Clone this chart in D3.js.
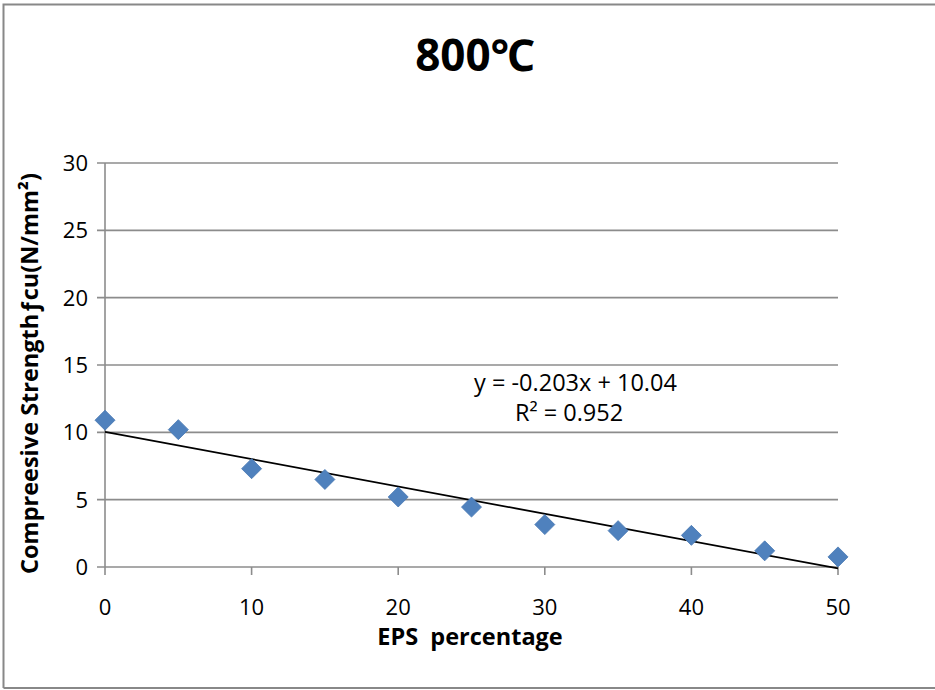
<!DOCTYPE html>
<html><head><meta charset="utf-8">
<script src="https://cdn.jsdelivr.net/npm/d3@7"></script>
<style>
body{margin:0;background:#fff;}
svg{display:block;font-family:"Open Sans","Noto Sans",sans-serif;}
</style></head>
<body><svg id="c" width="935" height="690"></svg>
<script>
const titleText = "800℃";
const eps = [0, 5, 10, 15, 20, 25, 30, 35, 40, 45, 50];
const strength = [10.9, 10.2, 7.3, 6.5, 5.2, 4.45, 3.15, 2.7, 2.35, 1.2, 0.75];
const yTicks = [0, 5, 10, 15, 20, 25, 30];
const xTicks = [0, 10, 20, 30, 40, 50];
const slope = -0.203, intercept = 10.04;
const eqText = "y = -0.203x + 10.04";
const r2Text = "R² = 0.952";
const xLabel = "EPS  percentage";
const yLabel = "Compreesive Strengthƒcu(N/mm²)";

const svg = d3.select("#c");
const W = 935, H = 690;
const m = {left:105, right:838, top:163, bottom:567};

svg.append("rect").attr("x",0).attr("y",0).attr("width",W).attr("height",H).attr("fill","#fff");
svg.append("path").attr("d",`M3.5,688 V4.5 H935 M3.5,688 H935`).attr("fill","none").attr("stroke","#888").attr("stroke-width",2);

const x = d3.scaleLinear().domain([0,50]).range([m.left,m.right]);
const y = d3.scaleLinear().domain([0,30]).range([m.bottom,m.top]);

svg.append("g").selectAll("line").data(yTicks).join("line")
  .attr("x1",m.left-8).attr("x2",m.right)
  .attr("y1",d=>y(d)).attr("y2",d=>y(d))
  .attr("stroke","#8c8c8c").attr("stroke-width",1.6);

svg.append("line").attr("x1",m.left).attr("x2",m.left).attr("y1",m.top).attr("y2",m.bottom)
  .attr("stroke","#8c8c8c").attr("stroke-width",1.6);

svg.append("g").selectAll("line").data(xTicks).join("line")
  .attr("x1",d=>x(d)).attr("x2",d=>x(d)).attr("y1",m.bottom).attr("y2",m.bottom+8)
  .attr("stroke","#8c8c8c").attr("stroke-width",1.6);

svg.append("g").selectAll("text").data(yTicks).join("text")
  .attr("x",m.left-17).attr("y",d=>y(d)).attr("dy","0.36em")
  .attr("text-anchor","end").attr("font-size",22).attr("fill","#000").text(d=>d);

svg.append("g").selectAll("text").data(xTicks).join("text")
  .attr("x",d=>x(d)).attr("y",m.bottom+40).attr("dy","0.36em")
  .attr("text-anchor","middle").attr("font-size",22).attr("fill","#000").text(d=>d);

svg.append("line")
  .attr("x1",x(0)).attr("y1",y(intercept))
  .attr("x2",x(50)).attr("y2",y(intercept+slope*50))
  .attr("stroke","#000").attr("stroke-width",1.8);

const sym = d3.symbol().type(d3.symbolSquare).size(200);
svg.append("g").selectAll("path").data(eps.map((e,i)=>[e,strength[i]])).join("path")
  .attr("d",sym).attr("transform",d=>`translate(${x(d[0])},${y(d[1])}) rotate(45)`)
  .attr("fill","#4F81BD").attr("stroke","#4a7ab3").attr("stroke-width",0.8);

svg.append("text").attr("x",575.5).attr("y",383).attr("dy","0.36em").attr("text-anchor","middle")
  .attr("font-size",23.5).text(eqText);
svg.append("text").attr("x",569).attr("y",413).attr("dy","0.36em").attr("text-anchor","middle")
  .attr("font-size",23.5).text(r2Text);

svg.append("text").attr("x",475).attr("y",55).attr("dy","0.36em").attr("text-anchor","middle")
  .attr("font-size",44).attr("font-weight","bold").text(titleText);

svg.append("text").attr("x",470).attr("y",637).attr("dy","0.36em").attr("text-anchor","middle")
  .attr("font-size",23.5).attr("font-weight","bold").style("white-space","pre").text(xLabel);
svg.append("text").attr("transform","translate(30,373.5) rotate(-90)").attr("dy","0.36em")
  .attr("text-anchor","middle").attr("font-size",23.5).attr("font-weight","bold").text(yLabel);
</script></body></html>
